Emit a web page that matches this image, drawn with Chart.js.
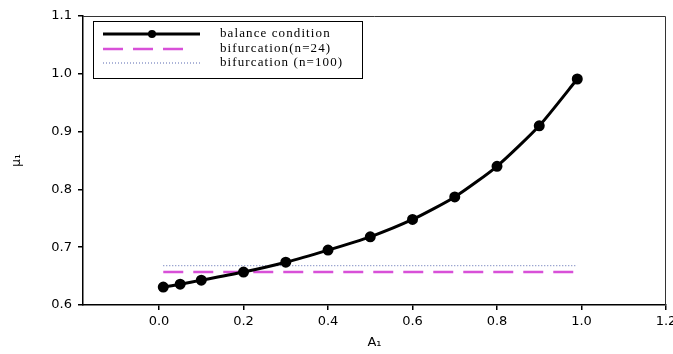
<!DOCTYPE html>
<html lang="en">
<head>
    <meta charset="UTF-8">
    <title>Balance condition vs bifurcation</title>
    <script src="https://cdn.jsdelivr.net/npm/chart.js"></script>
    <style>
        body { margin: 0; background: #fff; }
        #wrap { width: 673px; height: 354px; }
    </style>
</head>
<body>
    <div id="wrap"><canvas id="muChart"></canvas></div>

    <script>
        // A1 values and the balance-condition mu1
        const a1 = [0.01, 0.05, 0.1, 0.2, 0.3, 0.4, 0.5, 0.6, 0.7, 0.8, 0.9, 0.99];
        const balance = [0.631, 0.636, 0.643, 0.657, 0.674, 0.695, 0.718, 0.748, 0.787, 0.840, 0.910, 0.991];
        // horizontal bifurcation levels, drawn over the same A1 range
        const bifX = [0.01, 0.99];
        const bif24 = [0.657, 0.657];
        const bif100 = [0.668, 0.668];
        const labels = ['balance condition', 'bifurcation(n=24)', 'bifurcation (n=100)'];
        const xTicks = [0, 0.2, 0.4, 0.6, 0.8, 1.0, 1.2];

        const toPts = (xs, ys) => xs.map((x, i) => ({ x: x, y: ys[i] }));
        // the original is stretched sideways, DejaVu's wider digits match it better
        const sans = '"DejaVu Sans", "Liberation Sans", sans-serif';

        // box round the plot + boxed legend in the upper left
        const frameAndLegend = {
            id: 'frameAndLegend',
            afterDraw(chart) {
                const ctx = chart.ctx;
                const a = chart.chartArea;
                ctx.save();
                ctx.strokeStyle = '#333';
                ctx.lineWidth = 1;
                ctx.beginPath();
                ctx.moveTo(a.left, a.top + 0.5);
                ctx.lineTo(a.right - 0.5, a.top + 0.5);
                ctx.lineTo(a.right - 0.5, a.bottom);
                ctx.stroke();

                const bx = 93, by = 21, bw = 269, bh = 57;
                ctx.strokeStyle = '#000';
                ctx.strokeRect(bx + 0.5, by + 0.5, bw, bh);

                const rows = [34, 49, 63];
                chart.data.datasets.forEach((ds, i) => {
                    const y = rows[i];
                    ctx.beginPath();
                    ctx.setLineDash(ds.borderDash || []);
                    ctx.strokeStyle = ds.borderColor;
                    ctx.lineWidth = ds.borderWidth;
                    ctx.moveTo(103, y);
                    ctx.lineTo(i === 1 ? 188 : 200, y);
                    ctx.stroke();
                    ctx.setLineDash([]);
                    if (ds.pointRadius > 0) {
                        ctx.beginPath();
                        ctx.fillStyle = ds.pointBackgroundColor;
                        ctx.arc(152, y, ds.pointRadius, 0, Math.PI * 2);
                        ctx.fill();
                    }
                    ctx.fillStyle = '#000';
                    ctx.font = '13px "Liberation Serif", "Times New Roman", serif';
                    ctx.textBaseline = 'middle';
                    ctx.letterSpacing = '1.1px';
                    ctx.fillText(ds.label, 220, y);
                });
                ctx.restore();
            }
        };

        new Chart(document.getElementById('muChart'), {
            type: 'line',
            data: {
                datasets: [{
                    label: labels[0],
                    data: toPts(a1, balance),
                    borderColor: '#000',
                    borderWidth: 3,
                    pointRadius: 4,
                    pointBackgroundColor: '#000',
                    pointBorderColor: '#000',
                    tension: 0.2,
                    order: 0
                }, {
                    label: labels[1],
                    data: toPts(bifX, bif24),
                    borderColor: '#d850d8',
                    borderWidth: 2.5,
                    borderDash: [20, 10],
                    pointRadius: 0,
                    order: 1
                }, {
                    label: labels[2],
                    data: toPts(bifX, bif100),
                    borderColor: '#5868b0',
                    borderWidth: 1,
                    borderDash: [1, 2],
                    pointRadius: 0,
                    order: 2
                }]
            },
            options: {
                responsive: true,
                maintainAspectRatio: false,
                animation: false,
                layout: { padding: { top: 16, right: 6, left: 0, bottom: 0 } },
                plugins: {
                    legend: { display: false },
                    tooltip: { enabled: false }
                },
                scales: {
                    x: {
                        type: 'linear',
                        min: -0.18,
                        max: 1.2,
                        afterFit: (s) => { s.height = 49; s.paddingLeft = 0; s.paddingRight = 0; },
                        afterBuildTicks: (s) => {
                            s.ticks = xTicks.map(v => ({ value: v }));
                        },
                        border: { display: true, color: '#000', width: 1.5 },
                        grid: { drawOnChartArea: false, color: '#000', tickLength: 5, lineWidth: 1.5 },
                        ticks: {
                            color: '#000',
                            padding: 4,
                            maxRotation: 0,
                            font: { family: sans, size: 13 },
                            callback: (v) => v.toFixed(1)
                        },
                        title: {
                            display: true,
                            text: 'A₁',
                            color: '#000',
                            padding: { top: 0 },
                            font: { family: sans, size: 13 }
                        }
                    },
                    y: {
                        min: 0.6,
                        max: 1.1,
                        afterFit: (s) => { s.width = 83; s.paddingTop = 0; s.paddingBottom = 0; },
                        border: { display: true, color: '#000', width: 1.5 },
                        grid: { drawOnChartArea: false, color: '#000', tickLength: 5, lineWidth: 1.5 },
                        ticks: {
                            stepSize: 0.1,
                            color: '#000',
                            padding: 6,
                            font: { family: sans, size: 13 },
                            callback: (v) => v.toFixed(1)
                        },
                        title: {
                            display: true,
                            text: 'μ₁',
                            color: '#000',
                            padding: { top: 10, bottom: 4 },
                            font: { family: sans, size: 12 }
                        }
                    }
                }
            },
            plugins: [frameAndLegend]
        });
    </script>
</body>
</html>
